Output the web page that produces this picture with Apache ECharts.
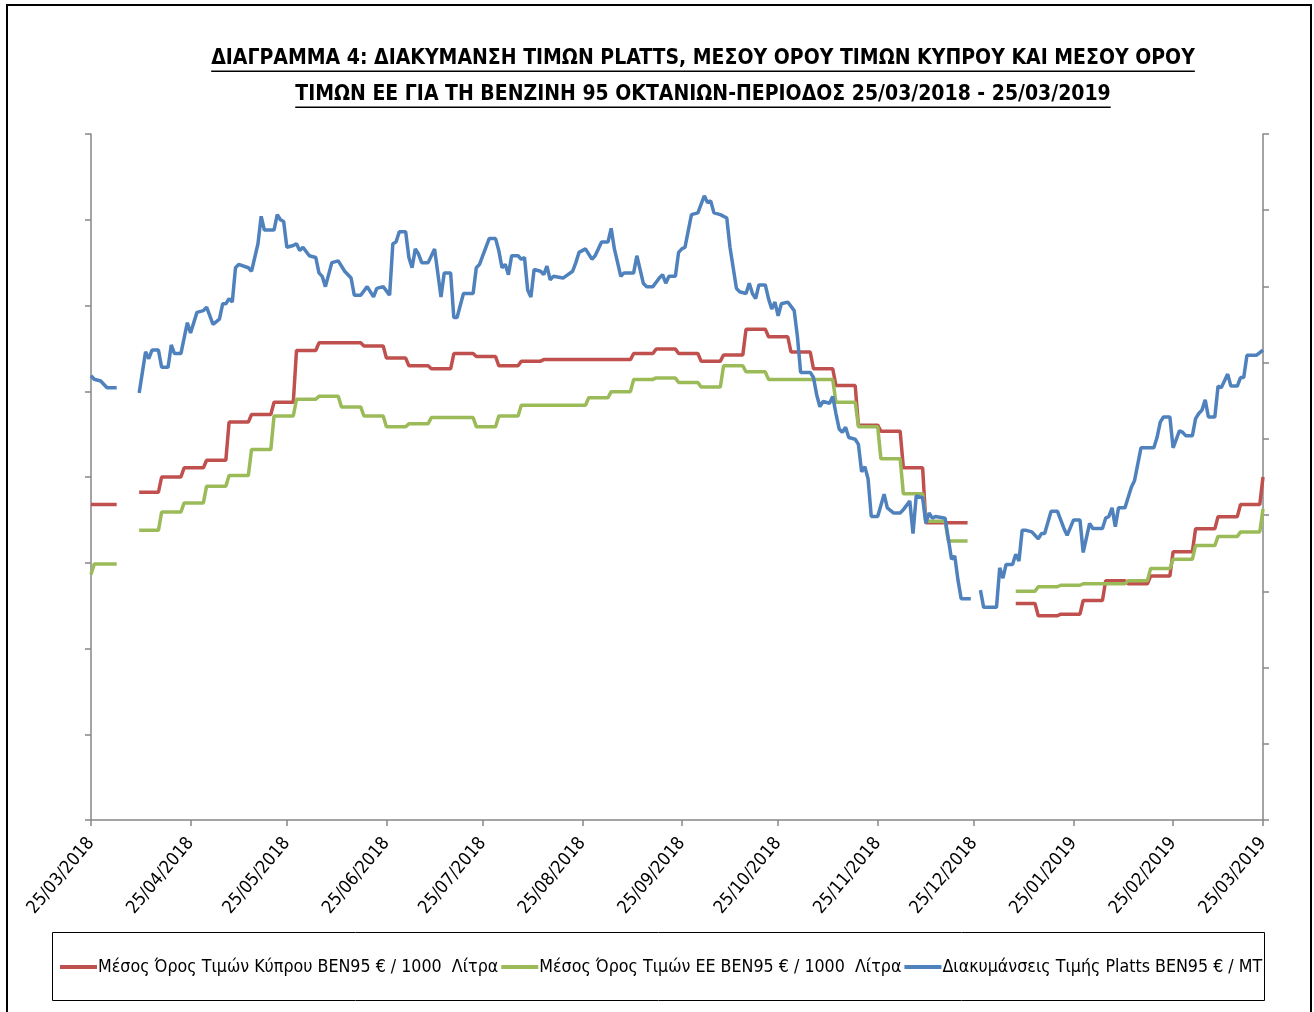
<!DOCTYPE html>
<html>
<head>
<meta charset="utf-8">
<title>Διάγραμμα 4 - Βενζίνη 95</title>
<script src="https://cdn.jsdelivr.net/npm/echarts@6/dist/echarts.min.js"></script>
<style>
    html, body { margin: 0; padding: 0; background: #fff; }
    #chart { width: 1314px; height: 1012px; }
</style>
</head>
<body>
<div id="chart"></div>
<script>
    // τίτλος σε δύο γραμμές, όπως στο πρωτότυπο
    const titleLines = [
        'ΔΙΑΓΡΑΜΜΑ 4: ΔΙΑΚΥΜΑΝΣΗ ΤΙΜΩΝ PLATTS, ΜΕΣΟΥ ΟΡΟΥ ΤΙΜΩΝ ΚΥΠΡΟΥ ΚΑΙ ΜΕΣΟΥ ΟΡΟΥ',
        'ΤΙΜΩΝ ΕΕ ΓΙΑ ΤΗ ΒΕΝΖΙΝΗ 95 ΟΚΤΑΝΙΩΝ-ΠΕΡΙΟΔΟΣ 25/03/2018 - 25/03/2019'
    ];
    const seriesNames = [
        'Μέσος Όρος Τιμών Κύπρου ΒΕΝ95 € / 1000  Λίτρα',
        'Μέσος Όρος Τιμών ΕΕ ΒΕΝ95 € / 1000  Λίτρα',
        'Διακυμάνσεις Τιμής Platts ΒΕΝ95 € / MT'
    ];
    const tickLabels = ['25/03/2018', '25/04/2018', '25/05/2018', '25/06/2018', '25/07/2018', '25/08/2018',
        '25/09/2018', '25/10/2018', '25/11/2018', '25/12/2018', '25/01/2019', '25/02/2019', '25/03/2019'];

    // όλες οι ημερομηνίες ως ημέρες από 25/03/2018

    // πρώτη εβδομάδα (πριν το κενό του Πάσχα)
    const firstDays = [0, 1, 8];
    const cyprusFirst = [457, 457, 457];
    const euFirst = [411, 418, 418];

    // εβδομαδιαίες τιμές, κάθε Δευτέρα 09/04/2018 - 17/12/2018 (ισχύουν ως 22/12)
    const weekStartsA = [15, 22, 29, 36, 43, 50, 57, 64, 71, 78, 85, 92, 99, 106, 113, 120, 127, 134, 141,
        148, 155, 162, 169, 176, 183, 190, 197, 204, 211, 218, 225, 232, 239, 246, 253, 260, 267];
    const endA = 273;
    const cyprusA = [465, 475, 481, 486, 511, 516, 524, 558, 563, 563, 561, 553, 548, 546, 556, 554, 548, 551, 552,
        552, 552, 552, 556, 559, 556, 551, 555, 572, 567, 557, 546, 535, 509, 505, 481, 445, 445];
    const euA = [440, 452, 458, 469, 476, 493, 515, 526, 528, 521, 515, 508, 510, 514, 514, 508, 515, 522, 522,
        522, 527, 531, 539, 540, 537, 534, 548, 544, 539, 539, 539, 524, 508, 487, 464, 446, 433];

    // εβδομαδιαίες τιμές 07/01/2019 - 25/03/2019
    const weekStartsB = [288, 295, 302, 309, 316, 323, 330, 337, 344, 351, 358, 365];
    const endB = 365;
    const cyprusB = [392, 384, 385, 394, 407, 405, 410, 426, 441, 449, 457, 475];
    const euB = [400, 403, 404, 405, 405, 407, 415, 421, 430, 436, 439, 454];

    // Platts [ημέρα, €/MT], null = χωρίς τιμή
    const platts = [
        [0, 559], [1, 557], [3, 556], [5, 552], [8, 552], [11, null],
        [15, 549], [16, 561], [17, 573], [18, 569], [19, 574], [21, 574], [22, 564], [24, 564], [25, 577],
        [26, 572], [28, 572], [30, 590], [31, 584], [33, 596], [35, 597], [36, 599], [38, 589], [40, 592],
        [41, 601], [42, 601], [43, 604], [44, 602], [45, 622], [46, 624], [49, 622], [50, 620], [51, 628],
        [52, 636], [53, 652], [54, 644], [57, 644], [58, 653], [59, 650], [60, 649], [61, 634], [63, 635],
        [64, 636], [65, 632], [66, 634], [68, 629], [70, 628], [71, 619], [72, 617], [73, 611], [75, 625],
        [77, 626], [79, 620], [81, 616], [82, 606], [84, 606], [86, 611], [88, 605], [89, 610], [91, 611],
        [93, 606], [94, 636], [95, 637], [96, 643], [98, 643], [99, 628], [100, 622], [101, 633], [102, 630],
        [103, 625], [105, 625], [107, 633], [109, 605], [110, 619], [112, 619], [113, 593], [114, 593],
        [116, 607], [119, 607], [120, 622], [121, 624], [124, 639], [126, 639], [127, 632], [128, 622],
        [129, 624], [130, 618], [131, 629], [133, 629], [134, 627], [135, 628], [136, 609], [137, 605],
        [138, 621], [140, 620], [141, 618], [142, 623], [143, 615], [144, 617], [147, 616], [150, 620],
        [151, 625], [152, 631], [154, 633], [156, 627], [157, 629], [158, 633], [159, 637], [161, 637],
        [162, 645], [163, 633], [165, 617], [166, 619], [169, 619], [170, 629], [172, 613], [173, 611],
        [175, 611], [177, 616], [178, 618], [179, 613], [180, 617], [182, 617], [183, 631], [184, 633],
        [185, 634], [187, 653], [189, 654], [191, 664], [192, 660], [193, 661], [194, 654], [196, 653],
        [198, 651], [199, 634], [201, 610], [202, 608], [204, 607], [205, 613], [206, 607], [207, 604],
        [208, 612], [210, 612], [211, 604], [212, 598], [213, 602], [214, 594], [215, 601], [217, 602],
        [219, 597], [220, 582], [221, 561], [224, 561], [225, 558], [226, 548], [227, 541], [228, 544],
        [230, 543], [231, 547], [232, 537], [233, 528], [234, 526], [235, 529], [236, 523], [238, 522],
        [239, 519], [240, 503], [241, 506], [242, 499], [243, 477], [245, 477], [247, 490], [248, 482],
        [250, 479], [252, 479], [253, 481], [255, 486], [256, 467], [257, 489], [259, 488], [260, 473],
        [261, 479], [262, 476], [263, 477], [266, 476], [267, 464], [268, 452], [269, 454], [270, 440],
        [271, 429], [274, 429], [276, null],
        [277, 434], [278, 424], [282, 424], [283, 447], [284, 441], [285, 449], [287, 449], [288, 455],
        [289, 451], [290, 469], [291, 469], [293, 468], [295, 464], [296, 467], [297, 467], [299, 480],
        [301, 480], [303, 470], [304, 466], [306, 475], [308, 475], [309, 456], [311, 473], [312, 470],
        [315, 470], [316, 476], [317, 477], [318, 482], [319, 471], [320, 482], [322, 482], [323, 488],
        [324, 494], [325, 498], [327, 517], [329, 517], [331, 517], [332, 523], [333, 532], [334, 535],
        [336, 535], [337, 517], [339, 527], [340, 526], [341, 524], [343, 524], [344, 534], [345, 537],
        [346, 539], [347, 545], [348, 535], [350, 535], [351, 553], [352, 552], [354, 560], [355, 553],
        [357, 553], [358, 558], [359, 558], [360, 571], [363, 571], [365, 574]
    ];

    const colors = ['#C0504D', '#9BBB59', '#4F81BD'];
    const axisGrey = '#868686';
    const titleFont = "'DejaVu Sans Condensed', 'Liberation Sans Narrow', sans-serif";
    const bodyFont = "'DejaVu Sans Condensed', 'Liberation Sans Narrow', sans-serif";

    function parseLabel(s) {
        const p = s.split('/');
        return Date.UTC(+p[2], +p[1] - 1, +p[0]);
    }

    // θέσεις των ετικετών σε ημέρες από την πρώτη
    const tickDays = tickLabels.map(s => Math.round((parseLabel(s) - parseLabel(tickLabels[0])) / 86400000));

    // κάθε εβδομάδα γίνεται οριζόντιο τμήμα ως την προηγούμενη της επόμενης αλλαγής
    function plateaus(starts, values, lastDay) {
        const pts = [];
        starts.forEach((s, i) => {
            const e = i + 1 < starts.length ? starts[i + 1] - 1 : lastDay;
            pts.push([s, values[i]], [e, values[i]]);
        });
        return pts;
    }

    function weeklySeries(first, a, b) {
        return firstDays.map((d, i) => [d, first[i]])
            .concat([[11, null]], plateaus(weekStartsA, a, endA), [[280, null]], plateaus(weekStartsB, b, endB));
    }

    // μήκος κειμένου για την υπογράμμιση του τίτλου
    const measureCtx = document.createElement('canvas').getContext('2d');
    function textWidth(str, font) {
        measureCtx.font = font;
        return measureCtx.measureText(str).width;
    }

    const titleSize = 21;
    const titleCenter = 703;
    const titleTops = [48, 84];
    const titleWidths = titleLines.map(t => textWidth(t, 'bold ' + titleSize + 'px ' + titleFont));

    let myChart = echarts.init(document.getElementById('chart'));
    let option = {
        backgroundColor: '#fff',
        animation: false,
        title: titleLines.map((t, i) => ({
            text: t,
            left: titleCenter - titleWidths[i] / 2,
            top: titleTops[i],
            padding: 0,
            textStyle: {
                fontFamily: titleFont,
                fontSize: titleSize,
                fontWeight: 'bold',
                color: '#000'
            }
        })),
        graphic: [
            {
                type: 'rect',
                shape: {x: 7, y: 5, width: 1304, height: 1015},
                style: {fill: 'none', stroke: '#000', lineWidth: 2},
                silent: true
            },
            {
                type: 'rect',
                shape: {x: 52.5, y: 932.5, width: 1212, height: 68},
                style: {fill: 'none', stroke: '#000', lineWidth: 1},
                silent: true
            }
        ].concat(titleLines.map((t, i) => ({
            type: 'rect',
            shape: {x: titleCenter - titleWidths[i] / 2, y: titleTops[i] + titleSize + 1.5, width: titleWidths[i], height: 1.6},
            style: {fill: '#000'},
            silent: true
        }))),
        legend: {
            left: 60,
            top: 958,
            itemGap: 3,
            itemWidth: 37,
            itemHeight: 4,
            icon: 'rect',
            padding: 0,
            textStyle: {
                fontFamily: bodyFont,
                fontSize: 17.7,
                color: '#000',
                padding: [0, 0, 0, -4]
            },
            data: seriesNames
        },
        grid: {
            left: 91,
            right: 51,
            top: 134,
            bottom: 192,
            containLabel: false
        },
        xAxis: {
            type: 'value',
            min: tickDays[0],
            max: tickDays[tickDays.length - 1],
            axisLine: {show: true, lineStyle: {color: axisGrey, width: 1.5}},
            axisTick: {show: true, length: 6, customValues: tickDays, lineStyle: {color: axisGrey, width: 1.5}},
            splitLine: {show: false},
            axisLabel: {
                customValues: tickDays,
                rotate: 50,
                margin: 20,
                hideOverlap: false,
                fontFamily: bodyFont,
                fontSize: 18,
                color: '#000',
                formatter: function (val) {
                    const i = tickDays.indexOf(Math.round(val));
                    return i >= 0 ? tickLabels[i] : '';
                }
            }
        },
        yAxis: [
            {
                type: 'value',
                position: 'left',
                min: 300,
                max: 700,
                interval: 50,
                axisLabel: {show: false},
                splitLine: {show: false},
                axisLine: {show: true, lineStyle: {color: axisGrey, width: 1.5}},
                axisTick: {show: true, length: 6, lineStyle: {color: axisGrey, width: 1.5}}
            },
            {
                type: 'value',
                position: 'right',
                min: 250,
                max: 700,
                interval: 50,
                axisLabel: {show: false},
                splitLine: {show: false},
                axisLine: {show: true, lineStyle: {color: axisGrey, width: 1.5}},
                axisTick: {show: true, length: 6, lineStyle: {color: axisGrey, width: 1.5}}
            }
        ],
        series: [
            {
                name: seriesNames[0],
                type: 'line',
                yAxisIndex: 1,
                showSymbol: false,
                symbol: 'none',
                color: colors[0],
                lineStyle: {width: 3.5, color: colors[0]},
                data: weeklySeries(cyprusFirst, cyprusA, cyprusB)
            },
            {
                name: seriesNames[1],
                type: 'line',
                yAxisIndex: 1,
                showSymbol: false,
                symbol: 'none',
                color: colors[1],
                lineStyle: {width: 3.5, color: colors[1]},
                data: weeklySeries(euFirst, euA, euB)
            },
            {
                name: seriesNames[2],
                type: 'line',
                yAxisIndex: 0,
                showSymbol: false,
                symbol: 'none',
                color: colors[2],
                lineStyle: {width: 3.5, color: colors[2]},
                data: platts
            }
        ]
    };
    myChart.setOption(option);

    window.onresize = function () {
        if (myChart) {
            myChart.resize();
        }
    };
</script>
</body>
</html>
